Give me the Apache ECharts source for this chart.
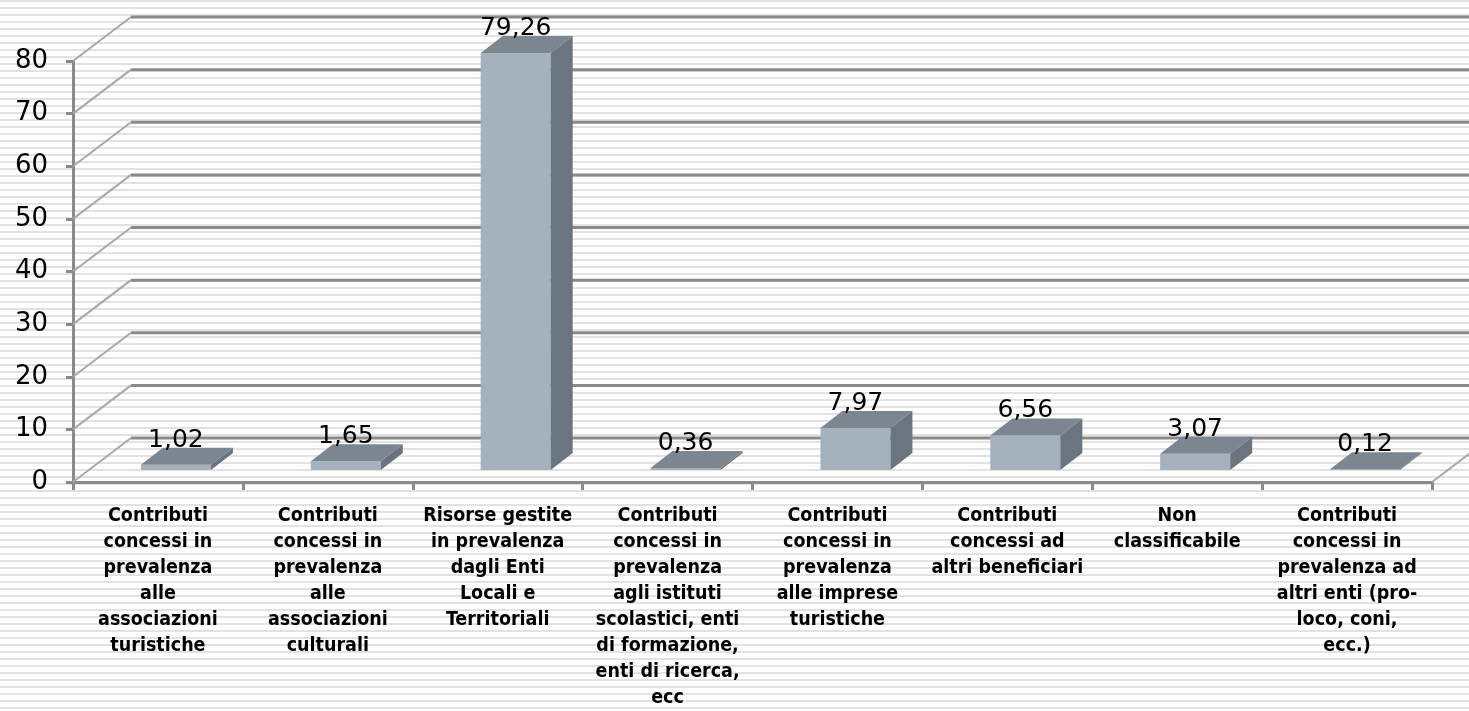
<!DOCTYPE html>
<html>
<head>
<meta charset="utf-8">
<script src="https://cdn.jsdelivr.net/npm/echarts@6/dist/echarts.min.js"></script>
<style>
html,body{margin:0;padding:0;background:#fff;}
#chart{width:1469px;height:711px;background:repeating-linear-gradient(to bottom,#e2e2e2 0px,#e2e2e2 2px,#ffffff 2px,#ffffff 7px);}
</style>
</head>
<body>
<div id="chart"></div>
<script>
const categories = [
  "Contributi\nconcessi in\nprevalenza\nalle\nassociazioni\nturistiche",
  "Contributi\nconcessi in\nprevalenza\nalle\nassociazioni\nculturali",
  "Risorse gestite\nin prevalenza\ndagli Enti\nLocali e\nTerritoriali",
  "Contributi\nconcessi in\nprevalenza\nagli istituti\nscolastici, enti\ndi formazione,\nenti di ricerca,\necc",
  "Contributi\nconcessi in\nprevalenza\nalle imprese\nturistiche",
  "Contributi\nconcessi ad\naltri beneficiari",
  "Non\nclassificabile",
  "Contributi\nconcessi in\nprevalenza ad\naltri enti (pro-\nloco, coni,\necc.)"
];
const values = [1.02, 1.65, 79.26, 0.36, 7.97, 6.56, 3.07, 0.12];
const yTicks = [0, 10, 20, 30, 40, 50, 60, 70, 80];

// 3D style parameters
const WALL_DX = 58, WALL_DY = -44;   // back wall depth
const BAR_DX = 22, BAR_DY = -17;     // bar depth
const BAR_SHIFT_X = 18, BAR_SHIFT_Y = -12; // bar placement inside depth
const BAR_W = 70;

const pc = document.createElement('canvas');
pc.width = 8; pc.height = 7;
const pctx = pc.getContext('2d');
pctx.fillStyle = '#ffffff'; pctx.fillRect(0, 0, 8, 7);
pctx.fillStyle = '#e2e2e2'; pctx.fillRect(0, 0, 8, 2);

const chart = echarts.init(document.getElementById('chart'), null, {renderer: 'canvas'});
const n = categories.length;
const fmt = v => v.toFixed(2).replace('.', ',');

const option = {
  backgroundColor: {image: pc, repeat: 'repeat'},
  animation: false,
  grid: {left: 73, right: 37, top: 61, bottom: 229},
  xAxis: {
    type: 'category',
    data: categories,
    axisLine: {lineStyle: {color: '#8a8a8a', width: 3}},
    axisTick: {show: true, length: 8, lineStyle: {color: '#8a8a8a', width: 3}},
    axisLabel: {interval: 0, fontFamily: 'DejaVu Sans Condensed', fontWeight: 'bold', fontSize: 19.5, lineHeight: 26, color: '#000', margin: 21},
    splitLine: {show: false}
  },
  yAxis: {
    type: 'value', min: 0, max: 80, interval: 10,
    axisLine: {show: true, lineStyle: {color: '#8a8a8a', width: 3}},
    axisTick: {show: true, length: 7, lineStyle: {color: '#8a8a8a', width: 3}},
    axisLabel: {fontFamily: 'DejaVu Sans', fontSize: 26, color: '#000', margin: 25},
    splitLine: {show: false}
  },
  series: [
    {
      type: 'custom',
      z: 1,
      silent: true,
      data: yTicks.map(v => [0, v]),
      encode: {x: 0, y: 1},
      renderItem: function (params, api) {
        const v = api.value(1);
        const band = api.size([1, 0])[0];
        const p0 = api.coord([0, v]);
        const pN = api.coord([n - 1, v]);
        const xL = p0[0] - band / 2, xR = pN[0] + band / 2, y = p0[1];
        const children = [
          {type: 'line', shape: {x1: xL, y1: y, x2: xL + WALL_DX, y2: y + WALL_DY}, style: {stroke: '#a8a8a8', lineWidth: 2}},
          {type: 'line', shape: {x1: xL + WALL_DX, y1: y + WALL_DY, x2: xR + WALL_DX, y2: y + WALL_DY}, style: {stroke: '#8a8a8a', lineWidth: 3}}
        ];
        if (v === 0) {
          children.push({type: 'line', shape: {x1: xR, y1: y, x2: xR + WALL_DX, y2: y + WALL_DY}, style: {stroke: '#a8a8a8', lineWidth: 2}});
        }
        return {type: 'group', children: children};
      }
    },
    {
      type: 'custom',
      z: 5,
      data: values.map((v, i) => [i, v]),
      encode: {x: 0, y: 1},
      renderItem: function (params, api) {
        const i = api.value(0), v = api.value(1);
        const base = api.coord([i, 0]);
        const top = api.coord([i, v]);
        const xl = base[0] + BAR_SHIFT_X - BAR_W / 2;
        const xr = xl + BAR_W;
        const yb = base[1] + BAR_SHIFT_Y;
        const yt = top[1] + BAR_SHIFT_Y;
        return {
          type: 'group',
          children: [
            {type: 'polygon', shape: {points: [[xl, yb], [xr, yb], [xr, yt], [xl, yt]]}, style: {fill: '#a5b1bd'}},
            {type: 'polygon', shape: {points: [[xr, yb], [xr + BAR_DX, yb + BAR_DY], [xr + BAR_DX, yt + BAR_DY], [xr, yt]]}, style: {fill: '#6b7580'}},
            {type: 'polygon', shape: {points: [[xl, yt], [xr, yt], [xr + BAR_DX, yt + BAR_DY], [xl + BAR_DX, yt + BAR_DY]]}, style: {fill: '#7b8691'}},
            {type: 'text', style: {text: fmt(v), x: (xl + xr) / 2, y: yt + BAR_DY + 5, textAlign: 'center', textVerticalAlign: 'bottom', fontFamily: 'DejaVu Sans', fontSize: 25, fill: '#000'}}
          ]
        };
      }
    }
  ]
};
chart.setOption(option);
</script>
</body>
</html>
